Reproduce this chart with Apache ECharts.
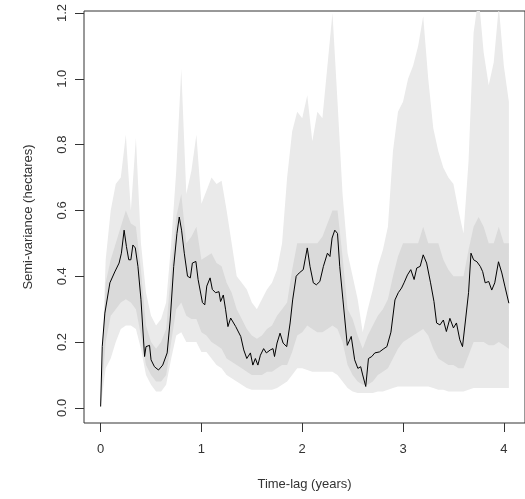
<!DOCTYPE html>
<html>
<head>
<meta charset="utf-8">
<script src="https://cdn.jsdelivr.net/npm/echarts@6/dist/echarts.min.js"></script>
<style>
  html, body { margin: 0; padding: 0; background: #fff; }
  #chart { width: 525px; height: 499px; }
</style>
</head>
<body>
<div id="chart"></div>
<script>
// empirical semi-variance (black line)
const lineLag = [0, 0.016, 0.042, 0.092, 0.14, 0.183, 0.206, 0.233, 0.256, 0.279, 0.30, 0.32, 0.344, 0.37, 0.40, 0.436, 0.45, 0.485, 0.50, 0.534,
  0.574, 0.616, 0.66, 0.69, 0.725, 0.757, 0.78, 0.803, 0.83, 0.862, 0.89, 0.91, 0.945, 0.967, 1.01, 1.033, 1.053, 1.086, 1.108, 1.14,
  1.174, 1.19, 1.217, 1.24, 1.263, 1.29, 1.34, 1.39, 1.42, 1.45, 1.486, 1.51, 1.535, 1.56, 1.585, 1.617, 1.644, 1.683, 1.71, 1.725,
  1.75, 1.78, 1.81, 1.846, 1.88, 1.905, 1.94, 1.97, 2.01, 2.05, 2.077, 2.11, 2.14, 2.175, 2.21, 2.25, 2.275, 2.296, 2.323, 2.35,
  2.372, 2.404, 2.447, 2.486, 2.52, 2.552, 2.58, 2.60, 2.63, 2.657, 2.69, 2.72, 2.766, 2.81, 2.84, 2.88, 2.92, 2.953, 2.985, 3.01,
  3.044, 3.077, 3.11, 3.136, 3.17, 3.2, 3.234, 3.273, 3.307, 3.333, 3.366, 3.40, 3.43, 3.465, 3.50, 3.53, 3.563, 3.59, 3.62, 3.65,
  3.674, 3.70, 3.733, 3.766, 3.79, 3.815, 3.85, 3.88, 3.91, 3.947, 3.98, 4.01, 4.05];
const semiVar = [0.004, 0.186, 0.288, 0.38, 0.413, 0.44, 0.47, 0.54, 0.49, 0.45, 0.45, 0.495, 0.486, 0.43, 0.33, 0.156, 0.186, 0.19, 0.146, 0.125,
  0.115, 0.13, 0.167, 0.267, 0.43, 0.53, 0.58, 0.54, 0.47, 0.40, 0.395, 0.44, 0.445, 0.39, 0.32, 0.313, 0.37, 0.395, 0.36, 0.35,
  0.353, 0.323, 0.343, 0.298, 0.247, 0.273, 0.247, 0.217, 0.176, 0.15, 0.167, 0.13, 0.15, 0.13, 0.16, 0.18, 0.167, 0.176, 0.18, 0.156,
  0.197, 0.227, 0.197, 0.186, 0.258, 0.328, 0.40, 0.41, 0.42, 0.486, 0.43, 0.38, 0.374, 0.384, 0.43, 0.47, 0.46, 0.516, 0.54, 0.53,
  0.43, 0.328, 0.19, 0.217, 0.146, 0.12, 0.125, 0.10, 0.065, 0.15, 0.156, 0.167, 0.17, 0.18, 0.186, 0.23, 0.328, 0.35, 0.364, 0.38,
  0.404, 0.42, 0.39, 0.425, 0.43, 0.465, 0.44, 0.38, 0.323, 0.258, 0.252, 0.267, 0.232, 0.272, 0.243, 0.258, 0.207, 0.186, 0.267, 0.35,
  0.47, 0.45, 0.444, 0.43, 0.414, 0.38, 0.384, 0.358, 0.38, 0.444, 0.41, 0.37, 0.318];

// confidence bands
const bandLag = [0, 0.05, 0.1, 0.15, 0.2, 0.25, 0.3, 0.35, 0.4, 0.45, 0.5, 0.55, 0.6, 0.65, 0.7, 0.75, 0.8, 0.85, 0.9, 0.95,
  1.0, 1.05, 1.1, 1.15, 1.2, 1.25, 1.3, 1.35, 1.4, 1.45, 1.5, 1.55, 1.6, 1.65, 1.7, 1.75, 1.8, 1.85, 1.9, 1.95,
  2.0, 2.05, 2.1, 2.15, 2.2, 2.25, 2.3, 2.35, 2.4, 2.45, 2.5, 2.55, 2.6, 2.65, 2.7, 2.75, 2.8, 2.85, 2.9, 2.95,
  3.0, 3.05, 3.1, 3.15, 3.2, 3.25, 3.3, 3.35, 3.4, 3.45, 3.5, 3.55, 3.6, 3.65, 3.7, 3.75, 3.8, 3.85, 3.9, 3.95,
  4.0, 4.05];
const upper95 = [0, 0.45, 0.6, 0.68, 0.7, 0.83, 0.6, 0.82, 0.5, 0.35, 0.28, 0.25, 0.27, 0.32, 0.5, 0.72, 1.03, 0.65, 0.72, 0.83,
  0.62, 0.66, 0.7, 0.68, 0.69, 0.6, 0.5, 0.4, 0.38, 0.36, 0.32, 0.3, 0.33, 0.36, 0.38, 0.42, 0.5, 0.7, 0.84, 0.9,
  0.88, 0.95, 0.81, 0.9, 0.88, 1.04, 1.2, 0.93, 0.65, 0.47, 0.4, 0.33, 0.23, 0.3, 0.36, 0.43, 0.48, 0.55, 0.78, 0.9,
  0.93, 1.0, 1.04, 1.1, 1.19, 1.0, 0.85, 0.78, 0.73, 0.7, 0.68, 0.6, 0.53, 0.75, 1.14, 1.25, 1.08, 0.98, 1.05, 1.22,
  1.04, 0.93];
const lower95 = [0, 0.12, 0.15, 0.2, 0.24, 0.25, 0.25, 0.24, 0.18, 0.1, 0.07, 0.05, 0.05, 0.07, 0.15, 0.22, 0.23, 0.2, 0.2, 0.2,
  0.17, 0.17, 0.15, 0.13, 0.12, 0.1, 0.09, 0.08, 0.07, 0.06, 0.055, 0.055, 0.055, 0.055, 0.055, 0.06, 0.07, 0.08, 0.1, 0.12,
  0.12, 0.115, 0.11, 0.11, 0.11, 0.11, 0.11, 0.1, 0.08, 0.06, 0.05, 0.045, 0.045, 0.045, 0.045, 0.05, 0.05, 0.055, 0.06, 0.065,
  0.065, 0.065, 0.065, 0.065, 0.065, 0.065, 0.06, 0.055, 0.055, 0.05, 0.05, 0.05, 0.05, 0.055, 0.06, 0.06, 0.06, 0.06, 0.06, 0.06,
  0.06, 0.06];
const upper50 = [0, 0.38, 0.45, 0.5, 0.55, 0.6, 0.56, 0.55, 0.42, 0.25, 0.2, 0.18, 0.2, 0.24, 0.42, 0.58, 0.65, 0.5, 0.52, 0.55,
  0.45, 0.46, 0.47, 0.44, 0.43, 0.38, 0.35, 0.3, 0.27, 0.24, 0.22, 0.21, 0.22, 0.24, 0.25, 0.28, 0.3, 0.32, 0.42, 0.5,
  0.5, 0.5, 0.5, 0.5, 0.52, 0.56, 0.6, 0.6, 0.46, 0.3, 0.27, 0.22, 0.18, 0.22, 0.25, 0.28, 0.3, 0.33, 0.4, 0.46,
  0.5, 0.5, 0.5, 0.5, 0.55, 0.5, 0.5, 0.5, 0.45, 0.42, 0.4, 0.4, 0.4, 0.48, 0.55, 0.58, 0.55, 0.5, 0.5, 0.55,
  0.5, 0.5];
const lower50 = [0, 0.2, 0.28, 0.3, 0.32, 0.33, 0.32, 0.3, 0.22, 0.13, 0.1, 0.08, 0.08, 0.1, 0.2, 0.3, 0.32, 0.28, 0.27, 0.27,
  0.23, 0.22, 0.2, 0.19, 0.18, 0.15, 0.14, 0.13, 0.12, 0.11, 0.1, 0.1, 0.1, 0.11, 0.11, 0.12, 0.13, 0.13, 0.17, 0.22,
  0.23, 0.25, 0.24, 0.23, 0.23, 0.24, 0.25, 0.24, 0.2, 0.13, 0.1, 0.08, 0.07, 0.07, 0.08, 0.1, 0.11, 0.12, 0.15, 0.18,
  0.2, 0.21, 0.22, 0.23, 0.24, 0.22, 0.18, 0.15, 0.14, 0.13, 0.13, 0.12, 0.12, 0.16, 0.2, 0.2, 0.2, 0.19, 0.19, 0.2,
  0.19, 0.18];

// axis ticks
const xTicks = [0, 1, 2, 3, 4];
const yTicks = [0, 0.2, 0.4, 0.6, 0.8, 1.0, 1.2];

const pairs = (xs, ys) => xs.map((x, i) => [x, ys[i]]);

const chart = echarts.init(document.getElementById('chart'), null, { renderer: 'canvas' });

// one polygon per band: upper edge left->right, lower edge right->left
function band(hi, lo, color) {
  return {
    type: 'custom', silent: true, clip: true,
    data: [[0, 0]],
    renderItem: (params, api) => {
      const top = bandLag.map((x, i) => api.coord([x, hi[i]]));
      const bottom = bandLag.map((x, i) => api.coord([x, lo[i]])).reverse();
      return {
        type: 'polygon',
        shape: { points: top.concat(bottom) },
        style: { fill: color }
      };
    }
  };
}

const textStyle = { fontFamily: 'Liberation Sans', fontSize: 13, color: '#333' };

chart.setOption({
  animation: false,
  backgroundColor: '#fff',
  grid: {
    left: 84, top: 11, width: 444, height: 412,
    show: true, borderColor: '#333', borderWidth: 1, backgroundColor: 'transparent'
  },
  xAxis: {
    type: 'value', min: -0.165, max: 4.21,
    name: 'Time-lag (years)', nameLocation: 'middle', nameGap: 55,
    nameTextStyle: textStyle,
    axisLine: { show: false, onZero: false },
    splitLine: { show: false },
    axisTick: { show: true, length: 9, customValues: xTicks, lineStyle: { color: '#333' } },
    axisLabel: { customValues: xTicks, margin: 20, ...textStyle }
  },
  yAxis: {
    type: 'value', min: -0.046, max: 1.206,
    name: 'Semi-variance (hectares)', nameLocation: 'middle', nameGap: 49,
    nameTextStyle: textStyle,
    axisLine: { show: false, onZero: false },
    splitLine: { show: false },
    axisTick: { show: true, length: 9, customValues: yTicks, lineStyle: { color: '#333' } },
    axisLabel: {
      customValues: yTicks, rotate: 90, margin: 15, ...textStyle,
      formatter: v => v.toFixed(1)
    }
  },
  series: [
    band(upper95, lower95, '#eaeaea'),
    band(upper50, lower50, '#dadada'),
    {
      type: 'line', name: 'semi-variance', symbol: 'none', silent: true,
      lineStyle: { color: '#000', width: 1 },
      data: pairs(lineLag, semiVar)
    }
  ]
});
</script>
</body>
</html>
